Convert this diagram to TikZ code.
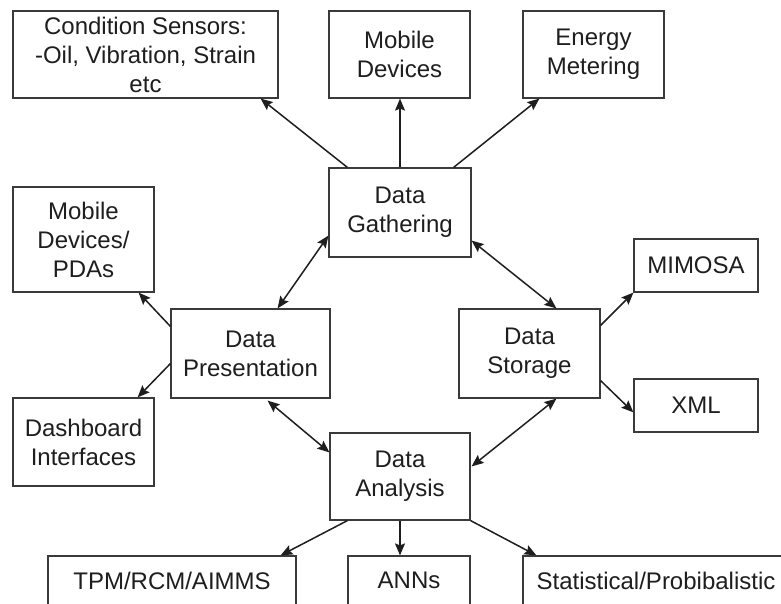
\documentclass[tikz,border=0pt]{standalone}
\usepackage{fontspec}
\setmainfont{Liberation Sans}
\usetikzlibrary{arrows.meta,calc}
\definecolor{ink}{HTML}{1E1E1E}
\definecolor{edge}{HTML}{3A3A3A}
\tikzset{
  box/.style={draw=edge, line width=1.2pt, fill=white, inner sep=0pt, align=center,
    text=ink, font=\fontsize{24}{29}\selectfont},
  conn/.style={draw=ink, line width=1.5pt, -{Stealth[length=12pt,width=10pt,inset=2pt]}},
  biconn/.style={draw=ink, line width=1.5pt, {Stealth[length=12pt,width=10pt,inset=2pt]}-{Stealth[length=12pt,width=10pt,inset=2pt]}}
}
\begin{document}
\begin{tikzpicture}[x=1pt,y=-1pt]
\useasboundingbox (0,0) rectangle (781,604);
\begin{scope}
\clip (0,0) rectangle (781,604);
\node[box, minimum width=265pt, minimum height=87pt] (cs) at (145.5,54.5) {Condition Sensors:\\-Oil, Vibration, Strain\\etc};
\node[box, minimum width=141pt, minimum height=87pt] (md) at (399.5,54.5) {Mobile\\Devices};
\node[box, minimum width=141pt, minimum height=87pt] (em) at (593.5,54.5) {Energy\\Metering};
\node[box, minimum width=142pt, minimum height=89pt] (dg) at (400,212.5) {Data\\Gathering};
\node[box, minimum width=141pt, minimum height=105pt] (pda) at (83.5,239.5) {Mobile\\Devices/\\PDAs};
\node[box, minimum width=159pt, minimum height=89pt] (dp) at (250.5,353.5) {Data\\Presentation};
\node[box, minimum width=141pt, minimum height=89pt] (ds) at (529.5,353.5) {Data\\Storage};
\node[box, minimum width=124pt, minimum height=53pt] (mim) at (696,265.5) {MIMOSA};
\node[box, minimum width=124pt, minimum height=53pt] (xml) at (696,405.5) {XML};
\node[box, minimum width=141pt, minimum height=88pt] (db) at (83.5,442) {Dashboard\\Interfaces};
\node[box, minimum width=140pt, minimum height=87pt] (da) at (400,476.5) {Data\\Analysis};
\node[box, minimum width=248pt, minimum height=49pt] (tpm) at (172,580.5) {TPM/RCM/AIMMS};
\node[box, minimum width=122pt, minimum height=49pt] (anns) at (409,580.5) {ANNs};
\node[box, minimum width=266pt, minimum height=49pt] (stat) at (656,580.5) {Statistical/Probibalistic};

\draw[conn] ($(dg.north west)+(19,0)$) -- ($(cs.south east)+(-18,0)$);
\draw[conn] (dg.north) -- (dg.north |- md.south);
\draw[conn] ($(dg.north east)+(-18,0)$) -- ($(em.south west)+(17,0)$);
\draw[biconn] ($(dp.north east)+(-53,0)$) -- ($(dg.south west)+(0,-22)$);
\draw[biconn] ($(dg.south east)+(0,-17)$) -- ($(ds.north west)+(98,0)$);
\draw[conn] ($(dp.north west)+(0,18)$) -- ($(pda.south east)+(-16,0)$);
\draw[conn] ($(dp.south west)+(0,-35)$) -- ($(db.north east)+(-17,0)$);
\draw[biconn] ($(dp.south east)+(-63,2)$) -- ($(da.north west)+(0,20)$);
\draw[biconn] ($(ds.south west)+(98,0)$) -- ($(da.north east)+(1,34)$);
\draw[conn] ($(ds.north east)+(0,17)$) -- (mim.south west);
\draw[conn] ($(ds.south east)+(0,-18)$) -- ($(xml.north west)+(0,34)$);
\draw[conn] ($(da.south west)+(18,0)$) -- ($(tpm.north east)+(-16,0)$);
\draw[conn] (da.south) -- (da.south |- anns.north);
\draw[conn] (da.south east) -- ($(stat.north west)+(14,0)$);
\end{scope}
\end{tikzpicture}
\end{document}
